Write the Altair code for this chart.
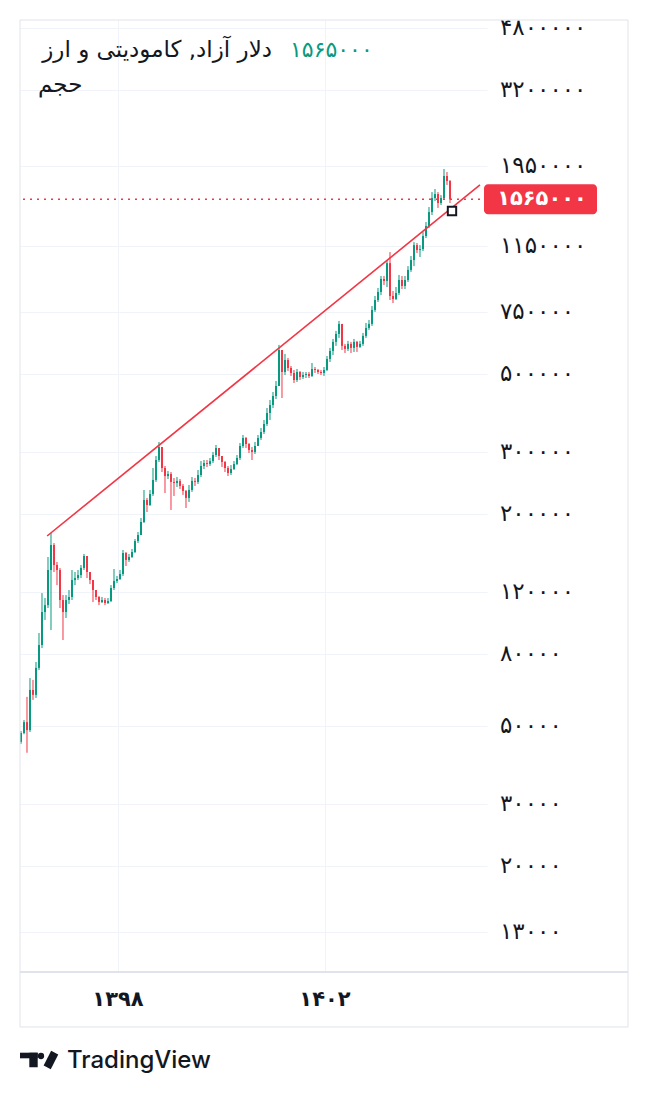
import altair as alt
import pandas as pd

# ---------------- data ----------------
bar_start = 1396.1256   # Persian-calendar (decimal) year of the first bar
bar_step = 0.05797      # spacing between bars, in years
first_open = 45000

close = [47700, 51200, 48600, 63200, 61200, 73000, 84800, 105200, 110100, 138500,
         163100, 143100, 138500, 113800, 105200, 113800, 116100, 129700, 131400, 134000,
         140400, 151800, 136700, 129700, 121500, 116100, 112300, 113800, 111600, 113100,
         123100, 128900, 130600, 134900, 154800, 147900, 150800, 155800, 167400, 174100,
         189600, 219000, 211900, 227700, 249600, 284400, 309700, 269900, 256100, 259500,
         246400, 244700, 248000, 240000, 232300, 221900, 233800, 248000, 246400, 257800,
         273500, 278900, 277000, 282500, 293900, 307700, 292000, 280700, 269900, 261200,
         268100, 277000, 288200, 311700, 328400, 315800, 303700, 299800, 311700, 328400,
         341600, 359900, 386800, 407600, 432300, 461500, 584200, 505800, 547200, 519300,
         502500, 480000, 505800, 489500, 496000, 499200, 492800, 515900, 512500, 505800,
         502500, 512500, 550800, 580400, 615900, 648800, 692600, 600000, 588300, 607800,
         592200, 615900, 596000, 607800, 640400, 674700, 692600, 759000, 810000, 853800,
         929600, 917400, 1031000, 831700, 815500, 848100, 923400, 887900, 923400, 986000,
         1052000, 1160000, 1123000, 1130000, 1231000, 1314000, 1440000, 1578000, 1620000, 1528000,
         1578000, 1823000, 1764000, 1565000]

high = [48300, 51900, 60400, 68300, 67500, 75900, 91700, 119100, 115300, 150800,
        176400, 165200, 146000, 140400, 117600, 117600, 121500, 138500, 136700, 138500,
        143100, 153800, 149900, 136700, 129700, 121500, 116800, 116100, 115300, 115300,
        125500, 139400, 133200, 138500, 157900, 155800, 153800, 158900, 169600, 177600,
        194600, 233800, 221900, 233800, 269900, 292000, 320000, 303700, 273500, 264700,
        262900, 252800, 254500, 251200, 243100, 233800, 241600, 254500, 252800, 266400,
        282500, 284400, 284400, 288200, 299800, 313800, 305700, 292000, 282500, 273500,
        275200, 282500, 293900, 317900, 335000, 330600, 317900, 309700, 320000, 335000,
        350700, 369500, 399700, 421200, 443800, 476900, 603900, 561700, 569100, 554400,
        526100, 512500, 515900, 509200, 505800, 505800, 505800, 536500, 522700, 515900,
        512500, 522700, 561700, 592200, 627900, 661700, 706400, 674700, 607800, 619900,
        615900, 627900, 619900, 619900, 653000, 697100, 711000, 778800, 831700, 876300,
        948000, 948000, 1052000, 1108000, 859300, 882000, 954200, 948000, 948000, 1011000,
        1080000, 1183000, 1176000, 1160000, 1263000, 1349000, 1488000, 1641000, 1674000, 1641000,
        1609000, 1908000, 1871000, 1776000]

low = [44400, 47300, 41900, 48000, 59200, 60000, 72000, 83100, 99900, 108000,
       93500, 136700, 125500, 108000, 87600, 101200, 110900, 113800, 125500, 129700,
       131400, 138500, 131400, 126300, 112300, 113800, 110100, 111600, 110100, 110900,
       112300, 121500, 127200, 129700, 133200, 142200, 146000, 149900, 154800, 165200,
       174100, 188400, 202400, 210600, 224800, 246400, 280700, 262900, 229200, 251200,
       205100, 224800, 238400, 235300, 226300, 207800, 216200, 230800, 240000, 243100,
       254500, 268100, 271700, 273500, 278900, 290100, 284400, 271700, 262900, 256100,
       257800, 266400, 275200, 284400, 307700, 307700, 297800, 284400, 295800, 311700,
       324200, 337100, 355300, 369500, 399700, 423900, 461500, 426700, 496000, 509200,
       492800, 470600, 473800, 480000, 483200, 486400, 486400, 489500, 502500, 499200,
       496000, 492800, 509200, 540100, 565400, 600000, 632000, 584200, 572800, 580400,
       572800, 576600, 576600, 592200, 600000, 632000, 666000, 683600, 749100, 799500,
       837100, 893700, 882000, 810000, 794200, 810000, 837100, 870600, 870600, 911400,
       973200, 1011000, 1101000, 1073000, 1116000, 1215000, 1297000, 1412000, 1548000, 1479000,
       1508000, 1558000, 1719000, 1528000]

tick_values = [4800000, 3200000, 1950000, 1150000, 750000, 500000, 300000,
               200000, 120000, 80000, 50000, 30000, 20000, 13000]
tick_labels = ["۴۸۰۰۰۰۰", "۳۲۰۰۰۰۰", "۱۹۵۰۰۰۰", "۱۱۵۰۰۰۰", "۷۵۰۰۰۰", "۵۰۰۰۰۰", "۳۰۰۰۰۰",
               "۲۰۰۰۰۰", "۱۲۰۰۰۰", "۸۰۰۰۰", "۵۰۰۰۰", "۳۰۰۰۰", "۲۰۰۰۰", "۱۳۰۰۰"]
year_values = [1398, 1402]
year_labels = ["۱۳۹۸", "۱۴۰۲"]

trend_t = [1396.63, 1404.995]
trend_p = [173000, 1719000]

last_price = 1565000
last_label = "۱۵۶۵۰۰۰"
marker_t = [1404.454]
marker_p = [1450000]

title_text = "دلار آزاد, کامودیتی و ارز"
volume_text = "حجم"
brand_text = "TradingView"

# ---------------- styling ----------------
GREEN = "#089981"
RED = "#F23645"
TEXT = "#131722"
GRID = "#F0F3FA"
BORDER = "#E0E3EB"
FONT = "DejaVu Sans"

opens = [first_open] + close[:-1]
rows = []
for i, c in enumerate(close):
    o = opens[i]
    rows.append({
        "t": bar_start + i * bar_step,
        "open": o,
        "close": c,
        "high": max(high[i], o, c),
        "low": min(low[i], o, c),
        "dir": "up" if c >= o else "down",
    })
df = pd.DataFrame(rows)

xs = alt.Scale(domain=[1396.10628, 1405.13043], nice=False, zero=False)
ys = alt.Scale(type="log", domain=[10052, 5057700], nice=False, zero=False)
xaxis = alt.Axis(values=year_values, grid=True, gridColor=GRID, gridWidth=1,
                 labels=False, ticks=False, domain=False, title=None)
yaxis = alt.Axis(values=tick_values, grid=True, gridColor=GRID, gridWidth=1,
                 labels=False, ticks=False, domain=False, title=None, orient="right")


def X(f):
    return alt.X(f, type="quantitative", scale=xs, axis=xaxis)


def Y(f):
    return alt.Y(f, type="quantitative", scale=ys, axis=yaxis)


col = alt.Color("dir:N", scale=alt.Scale(domain=["up", "down"], range=[GREEN, RED]), legend=None)

base = alt.Chart(df)
wick = base.mark_rule(strokeWidth=1).encode(x=X("t"), y=Y("low"), y2="high", color=col)
body = base.mark_rule(strokeWidth=2, strokeCap="butt").encode(x=X("t"), y=Y("open"), y2="close", color=col)

last_df = pd.DataFrame({"p": [last_price], "label": [last_label]})
dotted = alt.Chart(last_df).mark_rule(color=RED, strokeDash=[2, 5], strokeWidth=1.5).encode(y=Y("p"))

trend = alt.Chart(pd.DataFrame({"t": trend_t, "p": trend_p})).mark_line(
    color=RED, strokeWidth=1.6).encode(x=X("t"), y=Y("p"))

marker = alt.Chart(pd.DataFrame({"t": marker_t, "p": marker_p})).mark_square(
    fill="white", stroke=TEXT, strokeWidth=2, size=70, opacity=1).encode(x=X("t"), y=Y("p"))

box = alt.Chart(last_df).mark_rect(color=RED, cornerRadius=4, yOffset=-15, y2Offset=15).encode(
    x=alt.value(464), x2=alt.value(577), y=Y("p"), y2=alt.Y2("p"))
box_text = alt.Chart(last_df).mark_text(color="white", fontWeight="bold", fontSize=21, font=FONT,
                                         align="center", baseline="middle").encode(
    x=alt.value(522), y=Y("p"), text="label:N")

tick_df = pd.DataFrame({"v": tick_values, "label": tick_labels})
tick_text = alt.Chart(tick_df).mark_text(align="left", baseline="middle", fontSize=23, font=FONT,
                                          color=TEXT).encode(x=alt.value(480), y=Y("v"), text="label:N")

year_df = pd.DataFrame({"v": year_values, "label": year_labels})
year_text = alt.Chart(year_df).mark_text(align="center", baseline="middle", fontSize=21, font=FONT,
                                          fontWeight="bold", color=TEXT).encode(
    x=X("v"), y=alt.value(980), text="label:N")

one = pd.DataFrame({"a": [0]})
title = alt.Chart(pd.DataFrame({"s": [title_text]})).mark_text(
    align="right", baseline="middle", fontSize=23, font=FONT, color=TEXT).encode(
    x=alt.value(252), y=alt.value(30), text="s:N")
title_val = alt.Chart(pd.DataFrame({"s": [last_label]})).mark_text(
    align="left", baseline="middle", fontSize=22, font=FONT, color=GREEN).encode(
    x=alt.value(270), y=alt.value(30), text="s:N")
vol = alt.Chart(pd.DataFrame({"s": [volume_text]})).mark_text(
    align="left", baseline="middle", fontSize=23, font=FONT, color=TEXT).encode(
    x=alt.value(18), y=alt.value(65), text="s:N")

frame = alt.Chart(one).mark_rect(fillOpacity=0, stroke=BORDER, strokeWidth=1).encode(
    x=alt.value(0), x2=alt.value(608), y=alt.value(0), y2=alt.value(1007))
sep = alt.Chart(one).mark_rule(color=BORDER, strokeWidth=2).encode(
    x=alt.value(0), x2=alt.value(608), y=alt.value(952), y2=alt.value(952))

# TradingView logo
logo_bar = alt.Chart(one).mark_rect(color=TEXT).encode(
    x=alt.value(0), x2=alt.value(17.7), y=alt.value(1032.7), y2=alt.value(1038.3))
logo_stem = alt.Chart(one).mark_rect(color=TEXT).encode(
    x=alt.value(9.3), x2=alt.value(17.7), y=alt.value(1032.7), y2=alt.value(1047.3))
logo_dot = alt.Chart(one).mark_circle(color=TEXT, size=40, opacity=1).encode(
    x=alt.value(21), y=alt.value(1036))
logo_slash = alt.Chart(one).mark_rule(color=TEXT, strokeWidth=8, strokeCap="butt").encode(
    x=alt.value(27.2), x2=alt.value(34.7), y=alt.value(1047.3), y2=alt.value(1032.7))
brand = alt.Chart(pd.DataFrame({"s": [brand_text]})).mark_text(
    align="left", baseline="alphabetic", fontSize=24, font="Inter", fontWeight=500, color=TEXT).encode(
    x=alt.value(47), y=alt.value(1048), text="s:N")

chart = alt.layer(
    wick, body, dotted, trend, marker, box, box_text, tick_text, year_text,
    title, title_val, vol, frame, sep, logo_bar, logo_stem, logo_dot, logo_slash, brand
).properties(
    width=467, height=951,
    autosize=alt.AutoSizeParams(type="none"),
    padding={"left": 20, "top": 20, "right": 161, "bottom": 127},
    background="white",
).configure_view(stroke=None)

chart.save("out.html", embed_options={"renderer": "svg", "actions": False})
